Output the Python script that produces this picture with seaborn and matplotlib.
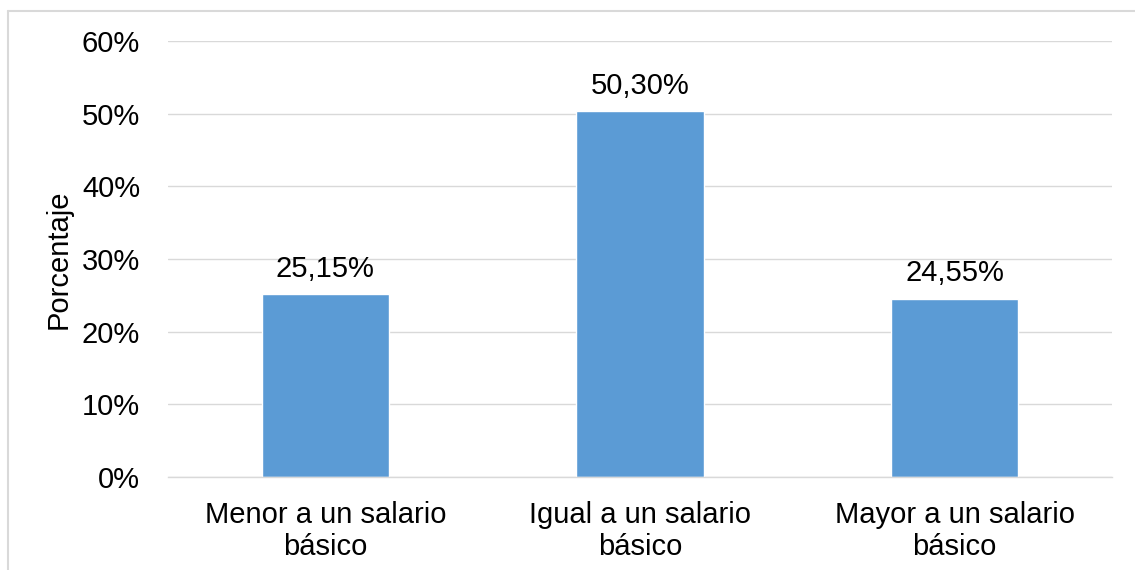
import matplotlib
matplotlib.use("Agg")
import matplotlib.pyplot as plt
from matplotlib.lines import Line2D
import seaborn as sns
import pandas as pd

categories = ["Menor a un salario\nbásico", "Igual a un salario\nbásico", "Mayor a un salario\nbásico"]
values = [25.15, 50.30, 24.55]
value_labels = ["25,15%", "50,30%", "24,55%"]
yticks = [0, 10, 20, 30, 40, 50, 60]
ytick_labels = ["0%", "10%", "20%", "30%", "40%", "50%", "60%"]

sns.set_theme(style="white")
plt.rcParams['font.family'] = ['Liberation Sans', 'DejaVu Sans']

df = pd.DataFrame({"cat": categories, "val": values})

fig = plt.figure(figsize=(11.35, 5.70), dpi=100)
ax = fig.add_axes([168/1135, 1-477/570, (1112-168)/1135, (477-41)/570])

sns.barplot(data=df, x="cat", y="val", color="#5B9BD5", saturation=1, width=0.405, ax=ax)

ax.set_ylim(0, 60)
ax.set_xlim(-0.5, 2.5)
ax.set_yticks(yticks)
ax.set_yticklabels(ytick_labels)
ax.yaxis.grid(True, color="#D9D9D9", linewidth=1.0)
ax.set_axisbelow(True)
for s in ["top", "right", "left"]:
    ax.spines[s].set_visible(False)
ax.spines["bottom"].set_color("#D9D9D9")
ax.spines["bottom"].set_linewidth(1.0)

ax.tick_params(axis="y", labelsize=21, pad=20, length=0, colors="black")
ax.tick_params(axis="x", labelsize=21, pad=17, length=0, colors="black")
for t in ax.get_xticklabels():
    t.set_linespacing(1.22)

ax.set_xlabel("")
ax.set_ylabel("Porcentaje", fontsize=21, labelpad=7, color="black")

ax.bar_label(ax.containers[0], labels=value_labels, padding=8, fontsize=21, color="black")

fig.add_artist(Line2D([7.5/1135, 1.0], [1-10.5/570, 1-10.5/570], color="#D9D9D9", linewidth=1.5, transform=fig.transFigure))
fig.add_artist(Line2D([7.5/1135, 7.5/1135], [1-10.5/570, 0.0], color="#D9D9D9", linewidth=1.5, transform=fig.transFigure))

fig.savefig("out.png", dpi=100, facecolor="white")
